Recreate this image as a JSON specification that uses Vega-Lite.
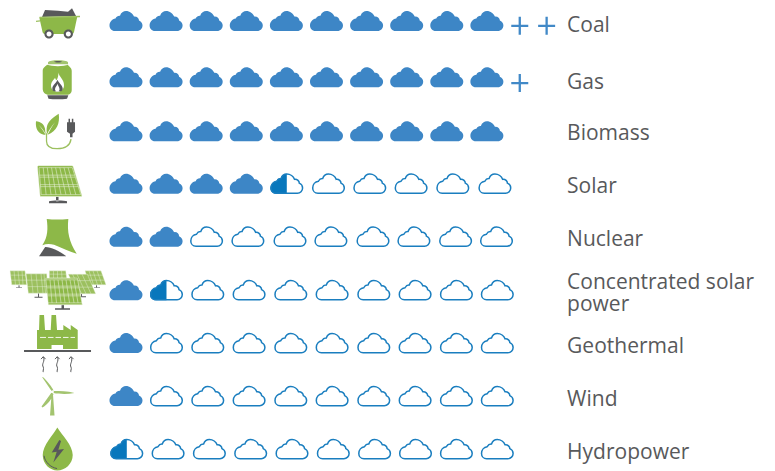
{"$schema":"https://vega.github.io/schema/vega-lite/v6.json","width":775,"height":471,"padding":0,"autosize":{"type":"fit","contains":"padding"},"background":"white","view":{"stroke":null},"config":{"view":{"stroke":null}},
"datasets":{"labels":[
{"source":"Coal","slot":12,"row":1.093},{"source":"Gas","slot":12,"row":2.157},{"source":"Biomass","slot":12,"row":3.107},{"source":"Solar","slot":12,"row":4.097},{"source":"Nuclear","slot":12,"row":5.087},{"source":"Concentrated solar\npower","slot":12,"row":5.9},{"source":"Geothermal","slot":12,"row":7.096},{"source":"Wind","slot":12,"row":8.086},{"source":"Hydropower","slot":12,"row":9.076}],
"marks":[
{"row":1,"slot":-0.72,"part":"coalHeap","look":"grey"},{"row":1,"slot":-0.72,"part":"coalBody","look":"green"},{"row":1,"slot":-0.72,"part":"coalRim","look":"rim"},{"row":1,"slot":-0.72,"part":"coalWheels","look":"grey"},{"row":1,"slot":-0.72,"part":"coalHubs","look":"white"},
{"row":2.05,"slot":-0.72,"part":"gasBase","look":"grey"},{"row":2.05,"slot":-0.72,"part":"gasNeck","look":"pale"},{"row":2.05,"slot":-0.72,"part":"gasValve","look":"grey"},{"row":2.05,"slot":-0.72,"part":"gasBody","look":"green"},{"row":2.05,"slot":-0.72,"part":"gasFlame","look":"white"},{"row":2.05,"slot":-0.72,"part":"gasFlameInner","look":"grey"},{"row":2.05,"slot":-0.72,"part":"gasFlameCore","look":"white"},
{"row":3.06,"slot":-0.72,"part":"bioLeaves","look":"green"},{"row":3.06,"slot":-0.72,"part":"bioCable","look":"rim"},{"row":3.06,"slot":-0.72,"part":"bioPlug","look":"grey"},
{"row":4.04,"slot":-0.72,"part":"solarStand","look":"grey"},{"row":4.04,"slot":-0.72,"part":"solarPanel","look":"panel"},
{"row":5.03,"slot":-0.72,"part":"nuclearTower","look":"green"},{"row":5.03,"slot":-0.72,"part":"nuclearWedge","look":"grey"},
{"row":6.03,"slot":-0.72,"part":"cspStands","look":"grey"},{"row":6.03,"slot":-0.72,"part":"cspFarLeft","look":"palePanel"},{"row":6.03,"slot":-0.72,"part":"cspFarRight","look":"palePanel"},{"row":6.03,"slot":-0.72,"part":"cspBack","look":"palePanel"},{"row":6.03,"slot":-0.72,"part":"cspMidLeft","look":"palePanel"},{"row":6.03,"slot":-0.72,"part":"cspMidRight","look":"palePanel"},{"row":6.03,"slot":-0.72,"part":"cspFront","look":"panel"},
{"row":7.02,"slot":-0.72,"part":"geoFactory","look":"green"},{"row":7.02,"slot":-0.72,"part":"geoDash","look":"dash"},{"row":7.02,"slot":-0.72,"part":"geoGround","look":"grey"},{"row":7.02,"slot":-0.72,"part":"geoArrows","look":"greyLine"},
{"row":8.01,"slot":-0.72,"part":"windBlades","look":"pale"},{"row":8.01,"slot":-0.72,"part":"windHub","look":"white"},
{"row":9,"slot":-0.72,"part":"hydroDrop","look":"green"},{"row":9,"slot":-0.72,"part":"hydroBolt","look":"grey"},{"row":9,"slot":-0.72,"part":"hydroCurve","look":"greyLine"},

{"row":1,"slot":1,"part":"full","look":"cloud"},{"row":1,"slot":2,"part":"full","look":"cloud"},{"row":1,"slot":3,"part":"full","look":"cloud"},{"row":1,"slot":4,"part":"full","look":"cloud"},{"row":1,"slot":5,"part":"full","look":"cloud"},{"row":1,"slot":6,"part":"full","look":"cloud"},{"row":1,"slot":7,"part":"full","look":"cloud"},{"row":1,"slot":8,"part":"full","look":"cloud"},{"row":1,"slot":9,"part":"full","look":"cloud"},{"row":1,"slot":10,"part":"full","look":"cloud"},{"row":1.09,"slot":10.82,"part":"plus","look":"plus"},{"row":1.09,"slot":11.49,"part":"plus","look":"plus"},
{"row":2.05,"slot":1,"part":"full","look":"cloud"},{"row":2.05,"slot":2,"part":"full","look":"cloud"},{"row":2.05,"slot":3,"part":"full","look":"cloud"},{"row":2.05,"slot":4,"part":"full","look":"cloud"},{"row":2.05,"slot":5,"part":"full","look":"cloud"},{"row":2.05,"slot":6,"part":"full","look":"cloud"},{"row":2.05,"slot":7,"part":"full","look":"cloud"},{"row":2.05,"slot":8,"part":"full","look":"cloud"},{"row":2.05,"slot":9,"part":"full","look":"cloud"},{"row":2.05,"slot":10,"part":"full","look":"cloud"},{"row":2.16,"slot":10.82,"part":"plus","look":"plus"},
{"row":3.06,"slot":1,"part":"full","look":"cloud"},{"row":3.06,"slot":2,"part":"full","look":"cloud"},{"row":3.06,"slot":3,"part":"full","look":"cloud"},{"row":3.06,"slot":4,"part":"full","look":"cloud"},{"row":3.06,"slot":5,"part":"full","look":"cloud"},{"row":3.06,"slot":6,"part":"full","look":"cloud"},{"row":3.06,"slot":7,"part":"full","look":"cloud"},{"row":3.06,"slot":8,"part":"full","look":"cloud"},{"row":3.06,"slot":9,"part":"full","look":"cloud"},{"row":3.06,"slot":10,"part":"full","look":"cloud"},
{"row":4.04,"slot":1,"part":"full","look":"cloud"},{"row":4.04,"slot":2,"part":"full","look":"cloud"},{"row":4.04,"slot":3,"part":"full","look":"cloud"},{"row":4.04,"slot":4,"part":"full","look":"cloud"},{"row":4.04,"slot":5.01,"part":"half","look":"halfFill"},{"row":4.04,"slot":5.01,"part":"empty","look":"outline"},{"row":4.04,"slot":6.05,"part":"empty","look":"outline"},{"row":4.04,"slot":7.08,"part":"empty","look":"outline"},{"row":4.04,"slot":8.11,"part":"empty","look":"outline"},{"row":4.04,"slot":9.15,"part":"empty","look":"outline"},{"row":4.04,"slot":10.2,"part":"empty","look":"outline"},
{"row":5.03,"slot":1,"part":"full","look":"cloud"},{"row":5.03,"slot":2,"part":"full","look":"cloud"},{"row":5.03,"slot":3.01,"part":"empty","look":"outline"},{"row":5.03,"slot":4.04,"part":"empty","look":"outline"},{"row":5.03,"slot":5.09,"part":"empty","look":"outline"},{"row":5.03,"slot":6.11,"part":"empty","look":"outline"},{"row":5.03,"slot":7.16,"part":"empty","look":"outline"},{"row":5.03,"slot":8.18,"part":"empty","look":"outline"},{"row":5.03,"slot":9.22,"part":"empty","look":"outline"},{"row":5.03,"slot":10.24,"part":"empty","look":"outline"},
{"row":6.03,"slot":1,"part":"full","look":"cloud"},{"row":6.03,"slot":2.01,"part":"half","look":"halfFill"},{"row":6.03,"slot":2.01,"part":"empty","look":"outline"},{"row":6.03,"slot":3.04,"part":"empty","look":"outline"},{"row":6.03,"slot":4.07,"part":"empty","look":"outline"},{"row":6.03,"slot":5.11,"part":"empty","look":"outline"},{"row":6.03,"slot":6.14,"part":"empty","look":"outline"},{"row":6.03,"slot":7.18,"part":"empty","look":"outline"},{"row":6.03,"slot":8.21,"part":"empty","look":"outline"},{"row":6.03,"slot":9.24,"part":"empty","look":"outline"},{"row":6.03,"slot":10.26,"part":"empty","look":"outline"},
{"row":7.02,"slot":1,"part":"full","look":"cloud"},{"row":7.02,"slot":2.01,"part":"empty","look":"outline"},{"row":7.02,"slot":3.04,"part":"empty","look":"outline"},{"row":7.02,"slot":4.07,"part":"empty","look":"outline"},{"row":7.02,"slot":5.11,"part":"empty","look":"outline"},{"row":7.02,"slot":6.14,"part":"empty","look":"outline"},{"row":7.02,"slot":7.18,"part":"empty","look":"outline"},{"row":7.02,"slot":8.21,"part":"empty","look":"outline"},{"row":7.02,"slot":9.24,"part":"empty","look":"outline"},{"row":7.02,"slot":10.26,"part":"empty","look":"outline"},
{"row":8.01,"slot":1,"part":"full","look":"cloud"},{"row":8.01,"slot":2.01,"part":"empty","look":"outline"},{"row":8.01,"slot":3.04,"part":"empty","look":"outline"},{"row":8.01,"slot":4.07,"part":"empty","look":"outline"},{"row":8.01,"slot":5.11,"part":"empty","look":"outline"},{"row":8.01,"slot":6.14,"part":"empty","look":"outline"},{"row":8.01,"slot":7.18,"part":"empty","look":"outline"},{"row":8.01,"slot":8.21,"part":"empty","look":"outline"},{"row":8.01,"slot":9.24,"part":"empty","look":"outline"},{"row":8.01,"slot":10.26,"part":"empty","look":"outline"},
{"row":9,"slot":1.02,"part":"half","look":"halfFill"},{"row":9,"slot":1.02,"part":"empty","look":"outline"},{"row":9,"slot":2.05,"part":"empty","look":"outline"},{"row":9,"slot":3.08,"part":"empty","look":"outline"},{"row":9,"slot":4.11,"part":"empty","look":"outline"},{"row":9,"slot":5.14,"part":"empty","look":"outline"},{"row":9,"slot":6.17,"part":"empty","look":"outline"},{"row":9,"slot":7.2,"part":"empty","look":"outline"},{"row":9,"slot":8.22,"part":"empty","look":"outline"},{"row":9,"slot":9.24,"part":"empty","look":"outline"},{"row":9,"slot":10.26,"part":"empty","look":"outline"}
]},
"layer":[
{"data":{"name":"marks"},"mark":{"type":"point","filled":true,"size":4,"opacity":1},
"encoding":{
"x":{"field":"slot","type":"quantitative","axis":null,"scale":{"domain":[-2.142,17.185],"nice":false,"zero":false}},
"y":{"field":"row","type":"quantitative","axis":null,"scale":{"domain":[0.608,9.391],"reverse":true,"nice":false,"zero":false}},
"shape":{"field":"part","type":"nominal","legend":null,"scale":{"domain":["full","half","empty","plus","coalHeap","coalBody","coalRim","coalWheels","coalHubs","gasBase","gasNeck","gasValve","gasBody","gasFlame","gasFlameInner","gasFlameCore","bioLeaves","bioCable","bioPlug","solarStand","solarPanel","nuclearTower","nuclearWedge","cspStands","cspFarLeft","cspFarRight","cspBack","cspMidLeft","cspMidRight","cspFront","geoFactory","geoDash","geoGround","geoArrows","windBlades","windHub","hydroDrop","hydroBolt","hydroCurve"],
"range":[
"M-11,10C-14.5,10 -16.5,7.3 -16.5,4.5C-16.5,1 -14,-2 -10.5,-2.5C-9.5,-4.5 -8,-5.5 -6,-5.3C-5,-8.5 -2.5,-10 0,-10C3.5,-10 7,-7.5 8,-4.5C11,-4.8 13,-2.5 13,-0.5C15.5,0.5 16.5,2.5 16.5,4.5C16.5,7.5 14,10 11,10Z",
"M0,-10C-2.5,-10 -5,-8.5 -6,-5.3C-8,-5.5 -9.5,-4.5 -10.5,-2.5C-14,-2 -16.5,1 -16.5,4.5C-16.5,7.3 -14.5,10 -11,10H0Z",
"M-10.6,9.6C-13.9,9.6 -15.8,7 -15.8,4.3C-15.8,1 -13.4,-1.9 -10.1,-2.4C-9.1,-4.3 -7.7,-5.3 -5.8,-5.1C-4.8,-8.2 -2.4,-9.6 0,-9.6C3.4,-9.6 6.7,-7.2 7.7,-4.3C10.6,-4.6 12.5,-2.4 12.5,-0.5C14.9,0.5 15.8,2.4 15.8,4.3C15.8,7.2 13.4,9.6 10.6,9.6Z",
"M-8.5,0H8.5M0,-9V9",
"M-15,-4L-12,-11L1,-10.3L11,-9.3L15,-12.7L19,-5Z",
"M-17.7,-3.5L20.3,-4.5L17,11C16.5,13 15,13 14,13L-12,13C-13,13 -14,12.5 -14.5,11Z",
"M-21,0.5L-17,0M-17.5,-3.6L23,-4.5",
"M-12.6,13a4.6,4.6 0 1,0 9.2,0a4.6,4.6 0 1,0 -9.2,0ZM6.7,13a4.6,4.6 0 1,0 9.2,0a4.6,4.6 0 1,0 -9.2,0Z",
"M-10.5,13a2.5,2.5 0 1,0 5,0a2.5,2.5 0 1,0 -5,0ZM8.8,13a2.5,2.5 0 1,0 5,0a2.5,2.5 0 1,0 -5,0Z",
"M-9.7,18L11.3,18L10,21.5C5,22.3 -4,22.3 -8.5,21.5Z",
"M-9,-13V-15C-7,-17.5 9,-17.5 11,-15V-13Z",
"M-3,-15.5C-2,-14.5 4,-14.5 5,-15.5C4,-16.5 -2,-16.5 -3,-15.5Z",
"M-10,-12.3C-5,-10.5 7,-10.5 11,-12.3C11,-11 14.7,-9.5 14.7,-6.5V13C14.7,15.5 13,16.8 11,17.7H-9.5C-12,16.8 -14.3,15 -14.3,12V-6.5C-14.3,-9.5 -10.8,-11 -10,-12.3Z",
"M1.3,-4.7C2,-0.5 7,2 7,8C7,12 4,14.5 0.5,14.5C-3,14.5 -6,12 -6,8.5C-6,4.5 -3.5,3 -2,0.5C-1.5,2 -1,3 -0.5,3C1,1 1.5,-2 1.3,-4.7Z",
"M0.5,2.5C1,5 5.7,8 5.7,11.5C5.7,12.5 5,13.5 4.3,14H-3.3C-4.2,13.5 -4.8,12.5 -4.7,11C-4.7,8 -1,6 0.5,2.5Z",
"M0.5,6.5C1,8.5 2.5,10 2.5,12C2.5,13 2,13.5 1.5,14H-0.8C-1.5,13.5 -2,13 -2,12C-2,10 0,8.5 0.5,6.5Z",
"M-21,-10C-16,-9.5 -13,-7 -12,-2.5C-12,-0.5 -11.5,1.5 -11,3.5C-13,-1 -16,-4 -18.5,-6.5C-16,-3.5 -13.5,-0.5 -11.5,3.5C-16,3.5 -19,1 -20.5,-3C-21.2,-5.5 -21.3,-8 -21,-10ZM1.7,-17.5C3,-8 0,0 -9.5,3.5C-7,-1 -5,-5 -2,-9C-5.5,-5 -8,-1 -10,3C-11,-3 -10,-7 -7.5,-10C-5,-13.5 -1,-15.5 1.7,-17.5Z",
"M-10.5,2V10C-10.5,15.5 -6,17.5 0,17.5C8,17.5 13,15 14,8",
"M11.5,-12.5H13V-9H14.8V-12.5H16.3V-9H18V0.5L15.5,2.5V6H13V2.5L10,0.5V-9H11.5Z",
"M-1,13V17.5H1.5V13ZM-8,17.5C-6,16.6 8,16.6 10,17.5V19.7H-8Z",
"M-18,-18H15C15.6,-18 16,-17.6 16.2,-17L24.8,11.5C25,12.2 24.6,12.8 24,12.8H-16C-16.6,12.8 -17,12.4 -17,11.8L-19.6,-16.8C-19.7,-17.5 -18.8,-18 -18,-18ZM-18,-16H15.3M-17.5,-8.5H17.6M-17.3,-6.5H18.2M-16.7,1H20.6M-16.5,3H21.2M-15.8,11H23.7M-18,-16L-15.8,11M-13.8,-16L-10.9,11M-9.7,-16L-6,11M-5.5,-16L-1,11M-1.4,-16L4,11M2.8,-16L8.9,11M7,-16L13.8,11M11.1,-16L18.8,11M15.3,-16L23.7,11",
"M-10.3,-17.7Q0,-16.5 11.3,-17.7C10,-5 12,5 19.7,17C13,15 5,11 -3,8C-7,7 -11,7 -14.7,8.5C-9,0 -9,-8 -10.3,-17.7Z",
"M-18,19.7L-12,10.5C-6,10.3 1,14 9,19.3V19.7Z",
"M-38.5,-5H-37.5V-3H-35V-2.3H-41V-3H-38.5ZM39,-5H40V-3H43V-2.3H37V-3H39ZM-19,3H-18V6.5H-14.5V7.5H-22.5V6.5H-19ZM24,3.7H25V6H29V7H21V6H24ZM4.5,14.7H7V18H13V19.5H-2V18H4.5Z",
"M-47,-19.3H-32L-30.3,-5.3H-45.3ZM-46.5,-15H-31.5M-46,-10H-31M-43,-19.3L-41.5,-5.3M-39,-19.3L-37.5,-5.3M-35,-19.3L-34,-5.3",
"M28,-19.3H44L49,-5.3H32.3ZM29,-15H45.5M30.5,-10H47.5M32,-19.3L36.5,-5.3M36,-19.3L40.5,-5.3M40,-19.3L45,-5.3",
"M-7.7,-19.3H8.7L9.7,-12H-7.7ZM-7.7,-16H9.2M-3.5,-19.3V-12M0.5,-19.3V-12M4.5,-19.3L5,-12",
"M-31,-16.3H-10.3L-8.7,3H-28.7ZM-30.5,-10H-10M-30,-3.5H-9.3M-26,-16.3L-24,3M-21,-16.3L-19,3M-16,-16.3L-14,3M-13,-16.3L-11.5,3",
"M11.3,-16H30.3L38.7,3.7H20.3ZM13.5,-9.5H33M16,-3H35.8M15.5,-16L24.5,3.7M20,-16L29,3.7M25,-16L34,3.7",
"M-11.3,-12H20.3L25.3,14.7H-8.7ZM-11,-10.3H20.5M-10.5,-4H21.8M-10.2,-2.3H22M-9.5,4H23.3M-9.2,5.7H23.6M-9,12.7H25M-7,-10.3L-5,12.7M-3,-10.3L-0.5,12.7M1,-10.3L4,12.7M5,-10.3L8,12.7M9,-10.3L12.5,12.7M13,-10.3L17,12.7M17,-10.3L21,12.7",
"M-20,6V-13H-18L-17.5,-28H-13L-12,-13H-6.3L-5.5,-28H-1L0,-13H6.3V-18L13.7,-13V-18L20.7,-13V6H6V2H-5.5V6Z",
"M-17,-5.7H-11M-9,-5.7H-3.5M-1.5,-5.7H4M6,-5.7H11.5M13.5,-5.7H18",
"M-33,7H34V9H-33Z",
"M-16,16L-13.7,13.5L-11.5,16M-13.7,14C-11.5,18 -16,21 -13.7,24C-13,26 -14.5,28 -13.7,29M-2,16L0.3,13.5L2.5,16M0.3,14C2.5,18 -2,21 0.3,24C1,26 -0.5,28 0.3,29M12,16L14,13.5L16.5,16M14,14C16.5,18 12,21 14,24C15,26 13,28 14,29",
"M-5.5,-5L-15,-19L-13.5,-18.5C-9,-14 -5,-9 -3.5,-5.5ZM-3.5,-5C3,-5 10,-5 17.5,-3C10,-1.5 2,-2 -3.5,-3ZM-5.5,-3.5L-15.5,10.5L-14.5,11.5C-9,8 -6,4 -3.5,-2ZM-5.5,-1L-7,19.5H-2.5L-4,-1Z",
"M-6,-4.3a1.3,1.3 0 1,0 2.6,0a1.3,1.3 0 1,0 -2.6,0Z",
"M0.3,-21.7C5,-14 15.7,-4 15.7,6C15.7,15 8,21.5 0.3,21.5C-7,21.5 -14.3,15 -14.3,6C-14.3,-4 -4,-14 0.3,-21.7Z",
"M2.3,-9L-5.3,3.3L-0.3,2.7L-3.7,13.3L7,0L1.3,0.7L4,-8Z",
"M-13,6.7C-12,13 -7,18 0,19.5"
]}},
"fill":{"field":"look","type":"nominal","legend":null,"scale":{"domain":["cloud","halfFill","outline","plus","green","pale","grey","white","panel","palePanel","rim","dash","greyLine"],"range":["#3d86c6","#0877bc","transparent","transparent","#8db848","#a3c46f","#58595b","#ffffff","#8db848","#9cc05f","transparent","transparent","transparent"]}},
"stroke":{"field":"look","type":"nominal","legend":null,"scale":{"domain":["cloud","halfFill","outline","plus","green","pale","grey","white","panel","palePanel","rim","dash","greyLine"],"range":["transparent","transparent","#1a7ebf","#4189c7","transparent","transparent","transparent","transparent","#f2f7e8","#eef4e2","#9cc05f","#ffffff","#58595b"]}},
"strokeWidth":{"field":"look","type":"nominal","legend":null,"scale":{"type":"ordinal","domain":["cloud","halfFill","outline","plus","green","pale","grey","white","panel","palePanel","rim","dash","greyLine"],"range":[0,0,1.5,2.3,0,0,0,0,0.5,0.4,1.3,0.9,1]}}
}},
{"data":{"name":"labels"},"mark":{"type":"text","align":"left","baseline":"middle","font":"Open Sans","fontSize":21,"color":"#58595b","lineBreak":"\n","lineHeight":22},
"encoding":{"x":{"field":"slot","type":"quantitative","axis":null},"y":{"field":"row","type":"quantitative","axis":null},"text":{"field":"source","type":"nominal"}}}
]}
